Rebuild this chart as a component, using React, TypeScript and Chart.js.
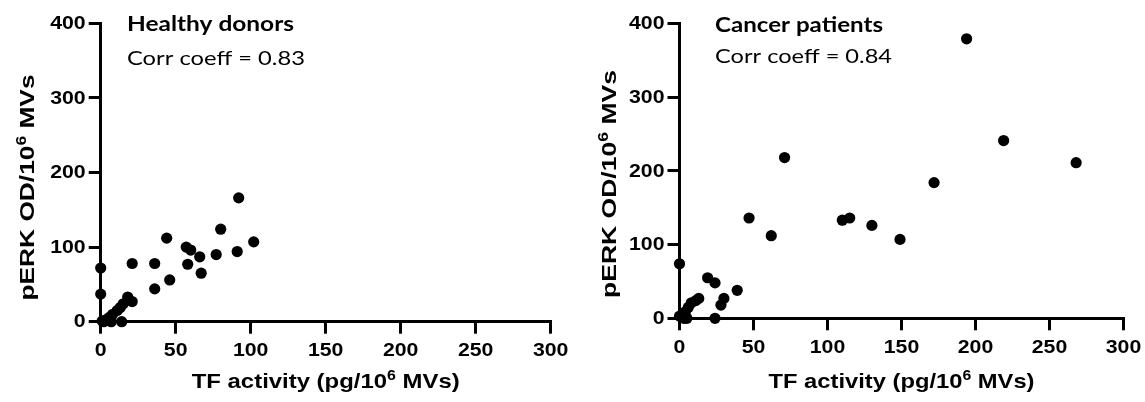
import React, { useEffect, useRef } from "react";
import { Chart, registerables } from "chart.js";

Chart.register(...registerables);

// ---------- data ----------
const healthyTF = [0, 0, 21, 36, 44, 36, 46, 57, 60, 58, 66, 67, 77, 80, 91, 92, 102, 18, 21, 15, 13, 11, 8, 6, 4, 1, 7, 14, 2];
const healthyPERK = [72, 37, 78, 78, 112, 44, 56, 100, 96, 77, 87, 65, 90, 124, 94, 166, 107, 33, 27, 24, 19, 15, 10, 6, 3, 1, 0, 0, 0];

const cancerTF = [194, 219, 268, 71, 172, 47, 62, 110, 115, 130, 149, 0, 19, 24, 39, 30, 28, 24, 13, 11, 8, 6, 4, 3, 0, 5];
const cancerPERK = [379, 241, 211, 218, 184, 136, 112, 133, 136, 126, 107, 74, 55, 48, 38, 27, 18, 0, 27, 24, 21, 15, 9, 0, 3, 0];

const xTicks = [0, 50, 100, 150, 200, 250, 300];
const yTicks = [0, 100, 200, 300, 400];

const headings = ["Healthy donors", "Cancer patients"];
const corrLabels = ["Corr coeff = 0.83", "Corr coeff = 0.84"];

type Part = { t: string; sup?: boolean };
const xTitleParts: Part[] = [{ t: "TF activity (pg/10" }, { t: "6", sup: true }, { t: " MVs)" }];
const yTitleParts: Part[] = [{ t: "pERK OD/10" }, { t: "6", sup: true }, { t: " MVs" }];

// ---------- layout ----------
const H = 402;

type Panel = {
  width: number;
  offset: number;
  left: number;
  right: number;
  top: number;
  bottom: number;
  textX: number;
  headBase: number;
  headW: number;
  corrBase: number;
  corrW: number;
  xTitleBase: number;
  xTitleW: number;
  yTitleX: number;
  yTitleCY: number;
  yTitleW: number;
};

const panels: Panel[] = [
  {
    width: 572, offset: 0,
    left: 100.7, right: 550.7, top: 23.3, bottom: 321.7,
    textX: 127, headBase: 30.7, headW: 167, corrBase: 65, corrW: 178,
    xTitleBase: 388.3, xTitleW: 268,
    yTitleX: 34, yTitleCY: 187.5, yTitleW: 226,
  },
  {
    width: 573, offset: 572,
    left: 107.5, right: 551.5, top: 23.3, bottom: 318.3,
    textX: 143, headBase: 31.7, headW: 168, corrBase: 63.3, corrW: 177,
    xTitleBase: 388.3, xTitleW: 266,
    yTitleX: 43.5, yTitleCY: 184, yTitleW: 228,
  },
];

const TITLE_FONT = 'bold 21px "Liberation Sans", Arial, sans-serif';
const SUP_FONT = 'bold 14px "Liberation Sans", Arial, sans-serif';
const SUP_RISE = 8;
const TICK_FONT = 'bold 19px "Liberation Sans", Arial, sans-serif';
const TICK_STRETCH = 1.12;
const HEAD_FONT = 'bold 20px Lato, "Open Sans", sans-serif';
const CORR_FONT = '20px Lato, "Open Sans", sans-serif';

function drawParts(
  ctx: CanvasRenderingContext2D,
  parts: Part[],
  font: string,
  supFont: string,
  x: number,
  y: number,
  target: number,
  align: "left" | "center"
) {
  ctx.save();
  let w0 = 0;
  const widths = parts.map((p) => {
    ctx.font = p.sup ? supFont : font;
    const w = ctx.measureText(p.t).width;
    w0 += w;
    return w;
  });
  const s = target > 0 ? target / w0 : 1;
  ctx.translate(x, y);
  ctx.scale(s, 1);
  let cx = align === "center" ? -w0 / 2 : 0;
  ctx.textAlign = "left";
  ctx.textBaseline = "alphabetic";
  ctx.fillStyle = "#000";
  parts.forEach((p, i) => {
    ctx.font = p.sup ? supFont : font;
    ctx.fillText(p.t, cx, p.sup ? -SUP_RISE : 0);
    cx += widths[i];
  });
  ctx.restore();
}

function makeTextPlugin(panel: Panel, idx: number) {
  return {
    id: "panelText" + idx,
    afterDraw(chart: any) {
      const ctx: CanvasRenderingContext2D = chart.ctx;
      const xs = chart.scales.x;
      const ys = chart.scales.y;
      ctx.save();
      ctx.fillStyle = "#000";
      ctx.font = TICK_FONT;
      // y tick labels
      for (const t of ys.ticks) {
        const py = ys.getPixelForValue(t.value);
        ctx.save();
        ctx.translate(panel.left - 15, py + 0.5);
        ctx.scale(TICK_STRETCH, 1);
        ctx.textAlign = "right";
        ctx.textBaseline = "middle";
        ctx.fillText(String(t.value), 0, 0);
        ctx.restore();
      }
      // x tick labels
      for (const t of xs.ticks) {
        const px = xs.getPixelForValue(t.value);
        ctx.save();
        ctx.translate(px, panel.bottom + 34.5);
        ctx.scale(TICK_STRETCH, 1);
        ctx.textAlign = "center";
        ctx.textBaseline = "alphabetic";
        ctx.fillText(String(t.value), 0, 0);
        ctx.restore();
      }
      ctx.restore();

      // headings
      drawParts(ctx, [{ t: headings[idx] }], HEAD_FONT, HEAD_FONT, panel.textX, panel.headBase, panel.headW, "left");
      drawParts(ctx, [{ t: corrLabels[idx] }], CORR_FONT, CORR_FONT, panel.textX, panel.corrBase, panel.corrW, "left");

      // x title
      const cx = (chart.chartArea.left + chart.chartArea.right) / 2;
      drawParts(ctx, xTitleParts, TITLE_FONT, SUP_FONT, cx, panel.xTitleBase, panel.xTitleW, "center");

      // y title (rotated)
      ctx.save();
      ctx.translate(panel.yTitleX, panel.yTitleCY);
      ctx.rotate(-Math.PI / 2);
      drawParts(ctx, yTitleParts, TITLE_FONT, SUP_FONT, 0, 0, panel.yTitleW, "center");
      ctx.restore();
    },
  };
}

function ScatterPanel({ panel, idx, xs, ys }: { panel: Panel; idx: number; xs: number[]; ys: number[] }) {
  const ref = useRef<HTMLCanvasElement | null>(null);

  useEffect(() => {
    if (!ref.current) return;
    const points = xs.map((x, i) => ({ x, y: ys[i] }));
    const chart = new Chart(ref.current, {
      type: "scatter",
      data: {
        datasets: [
          {
            data: points,
            backgroundColor: "#000",
            borderColor: "#000",
            borderWidth: 0,
            pointRadius: 5.6,
            pointHoverRadius: 5.6,
            clip: false as any,
          },
        ],
      },
      options: {
        animation: false,
        responsive: false,
        maintainAspectRatio: false,
        events: [],
        layout: {
          padding: { left: 0, top: panel.top, right: panel.width - panel.right, bottom: 0 },
        },
        plugins: {
          legend: { display: false },
          tooltip: { enabled: false },
          title: { display: false },
        },
        scales: {
          x: {
            type: "linear",
            min: xTicks[0],
            max: xTicks[xTicks.length - 1],
            afterBuildTicks: (s: any) => {
              s.ticks = xTicks.map((v) => ({ value: v }));
            },
            afterFit: (s: any) => {
              s.height = H - panel.bottom;
            },
            grid: {
              display: true,
              drawOnChartArea: false,
              drawTicks: true,
              tickLength: 12,
              lineWidth: 3,
              color: "#000",
            },
            border: { display: true, width: 3, color: "#000" },
            ticks: { display: false },
          },
          y: {
            type: "linear",
            min: yTicks[0],
            max: yTicks[yTicks.length - 1],
            afterBuildTicks: (s: any) => {
              s.ticks = yTicks.map((v) => ({ value: v }));
            },
            afterFit: (s: any) => {
              s.width = panel.left;
            },
            grid: {
              display: true,
              drawOnChartArea: false,
              drawTicks: true,
              tickLength: 12,
              lineWidth: 3,
              color: "#000",
            },
            border: { display: true, width: 3, color: "#000" },
            ticks: { display: false },
          },
        },
      },
      plugins: [makeTextPlugin(panel, idx)],
    } as any);
    return () => chart.destroy();
  }, [panel, idx, xs, ys]);

  return (
    <canvas
      ref={ref}
      width={panel.width}
      height={H}
      style={{ position: "absolute", left: panel.offset, top: 0, width: panel.width, height: H }}
    />
  );
}

export default function App() {
  return (
    <div style={{ position: "absolute", left: 0, top: 0, width: 1145, height: H, background: "#fff", overflow: "hidden" }}>
      <ScatterPanel panel={panels[0]} idx={0} xs={healthyTF} ys={healthyPERK} />
      <ScatterPanel panel={panels[1]} idx={1} xs={cancerTF} ys={cancerPERK} />
    </div>
  );
}
